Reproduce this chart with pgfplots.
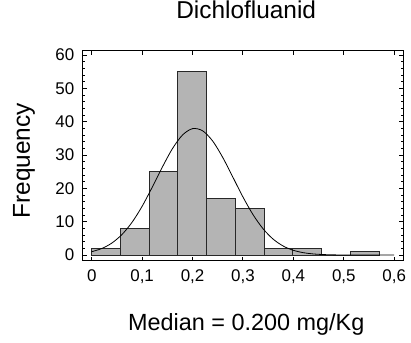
\documentclass[border=0pt]{standalone}
\usepackage{pgfplots}
\pgfplotsset{compat=1.18}
\usepackage{fontspec}
\setmainfont{Liberation Sans}
\definecolor{barfill}{RGB}{180,180,180}
\definecolor{baredge}{RGB}{40,40,40}
\begin{document}
\begin{tikzpicture}
\useasboundingbox (-82.7bp,-82.3bp) rectangle (328.3bp,260.7bp);
\begin{axis}[
  at={(0,0)}, anchor=south west,
  scale only axis,
  width=320.6bp, height=210bp,
  xmin=-0.0179, xmax=0.618,
  ymin=-1.7, ymax=61.3,
  axis line style={line width=1.4bp},
  tick align=inside,
  xtick={0,0.1,0.2,0.3,0.4,0.5,0.6},
  xticklabels={0,{0,1},{0,2},{0,3},{0,4},{0,5},{0,6}},
  ytick={0,10,20,30,40,50,60},
  minor y tick num=4,
  major tick length=4bp,
  minor tick length=2.5bp,
  every tick/.style={black, line width=1bp},
  /pgf/number format/assume math mode=true,
  tick label style={font=\fontsize{17}{17}\selectfont},
  xticklabel style={yshift=-5bp},
  yticklabel style={xshift=-5bp},
  title={Dichlofluanid},
  title style={at={(axis description cs:0.51,1.127)}, anchor=base, yshift=0pt, font=\fontsize{24.5}{26}\selectfont},
  xlabel={Median = 0.200 mg/Kg},
  xlabel style={at={(axis description cs:0.51,-0.33)}, anchor=base, font=\fontsize{23.5}{26}\selectfont},
  ylabel={Frequency},
  ylabel style={at={(axis description cs:-0.183,0.475)}, anchor=center, font=\fontsize{24.5}{26}\selectfont},
]
\addplot[ybar interval, fill=barfill, draw=baredge, line width=1bp] coordinates {
  (0,2) (0.057,8) (0.114,25) (0.171,55) (0.228,17) (0.285,14) (0.342,2) (0.399,2) (0.456,0) (0.513,1) (0.570,1)
};
\addplot[black, line width=0.8bp, smooth, mark=none] coordinates {
  (0,1.00) (0.02,1.96) (0.04,3.60) (0.06,6.16) (0.08,9.82) (0.10,14.63) (0.12,20.34) (0.14,26.36) (0.16,31.89) (0.18,36.0) (0.20,37.92) (0.22,37.27) (0.24,34.18) (0.26,29.24) (0.28,23.35) (0.30,17.40) (0.32,12.10) (0.34,7.85) (0.36,4.75) (0.38,2.68) (0.40,1.41) (0.42,0.70) (0.44,0.32) (0.46,0.14) (0.48,0.05) (0.50,0.02) (0.55,0.0) (0.60,0.0)
};
\end{axis}
\end{tikzpicture}
\end{document}
